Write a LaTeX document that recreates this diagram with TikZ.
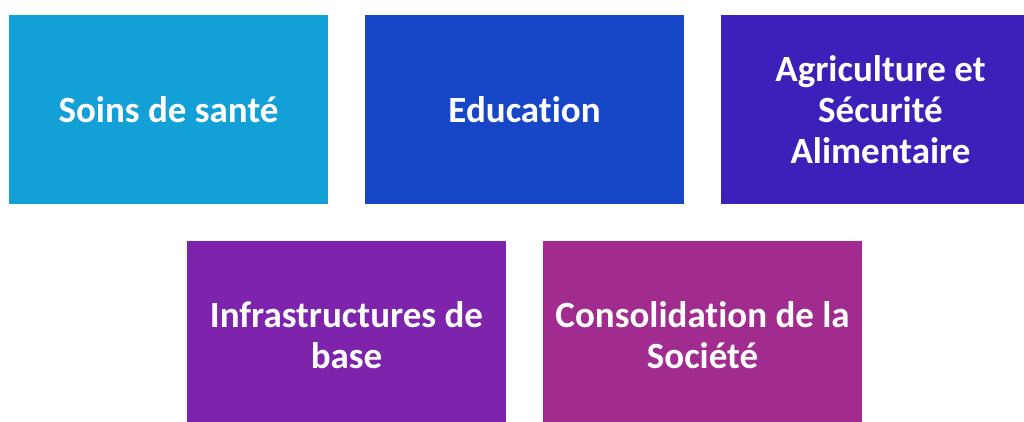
\documentclass[tikz,border=0pt]{standalone}
\usepackage{fontspec}
\setmainfont[Ligatures=NoCommon]{Carlito}
\usepackage{tikz}
\usetikzlibrary{positioning}

\definecolor{santeblue}{HTML}{12A0D6}
\definecolor{edublue}{HTML}{1746C7}
\definecolor{agriviolet}{HTML}{3D1FBA}
\definecolor{infrapurple}{HTML}{7E24AC}
\definecolor{socmagenta}{HTML}{A22B8F}

\begin{document}
\begin{tikzpicture}[x=1pt, y=-1pt, node distance=356pt]
        \tikzstyle{tile}=[rectangle, draw=none, minimum width=319pt, minimum height=189pt,
          inner sep=0pt, align=center, text=white, font=\fontsize{37}{41}\selectfont\bfseries]
        \useasboundingbox (0,0) rectangle (1024,421);
        \begin{scope}
          \node [tile, fill=santeblue] (sante) at (168.5,109.5) {Soins de santé};
          \node [tile, fill=edublue] (edu) [right of=sante] {Education};
          \node [tile, fill=agriviolet] (agri) [right of=edu] {Agriculture et\\Sécurité\\Alimentaire};
          \node [tile, fill=infrapurple] (infra) at (346.5,335.5) {Infrastructures de\\base};
          \node [tile, fill=socmagenta] (societe) [right of=infra] {Consolidation de la\\Société};
        \end{scope}
      \end{tikzpicture}
\end{document}
